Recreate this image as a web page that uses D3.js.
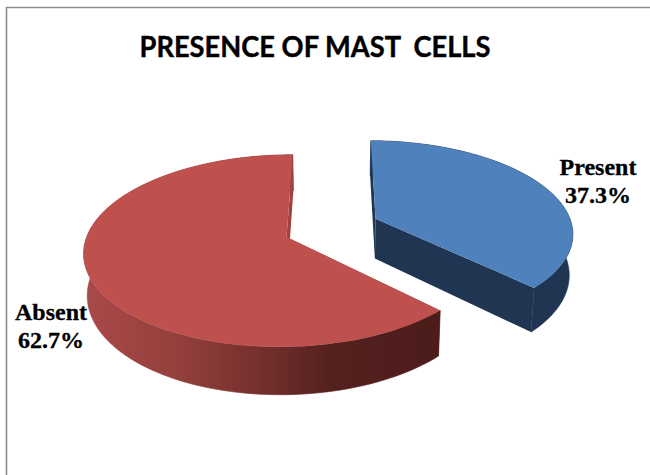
<!DOCTYPE html>
<html>
<head>
<meta charset="utf-8">
<script src="https://cdn.jsdelivr.net/npm/d3@7"></script>
<style>
html,body{margin:0;padding:0;background:#fff;}
svg{display:block;}
</style>
</head>
<body>
<script>
// Slice data
const categories = ["Present", "Absent"];
const percentages = [37.3, 62.7];
const chartTitle = "PRESENCE OF MAST  CELLS";

const width = 650, height = 475;
const svg = d3.select("body").append("svg").attr("width", width).attr("height", height);

// Chart frame: only the top and left edges fall inside the page
svg.append("path")
  .attr("d", d3.line()([[6.5, 475], [6.5, 7.5], [650, 7.5]]))
  .attr("fill", "none").attr("stroke", "#8c8c8c").attr("stroke-width", 1.6);

const defs = svg.append("defs");
const rimGradient = defs.append("linearGradient")
  .attr("id", "absentRim").attr("gradientUnits", "userSpaceOnUse")
  .attr("x1", 86).attr("x2", 440).attr("y1", 0).attr("y2", 0);
[[0, "#a9494a"], [0.25, "#94403c"], [0.5, "#742f2d"], [0.68, "#55211f"], [1, "#4b1c1a"]]
  .forEach(([o, c]) => rimGradient.append("stop").attr("offset", o).attr("stop-color", c));

// Perspective camera over the pie's ground plane
const vanishX = 329, centreY = 237, scaleX = 203, scaleZ = 95.5, foreshorten = 0.146;
const pieCentreX = -0.197, sideDrop = 41, sideShrink = 0.985;

function project(wx, wz) {
  const s = 1 + foreshorten * wz;
  return [vanishX + scaleX * wx / s, centreY - scaleZ * wz / s];
}
function projectBase(wx, wz) {
  const s = 1 + foreshorten * wz;
  const [x, y] = project(wx, wz);
  return [vanishX + (x - vanishX) * sideShrink, y + sideDrop / s];
}

const startDeg = 0.3;
const pieLayout = d3.pie().sort(null)
  .startAngle(startDeg * Math.PI / 180)
  .endAngle((360 + startDeg) * Math.PI / 180);
const arcs = pieLayout(percentages);
const line = d3.line();

// Pulled-out offset and drawn radius of each slice on the ground plane
const pullX = [0.433, -0.012], pullZ = [0.197, 0], sliceRadius = [0.985, 0.985];
const styles = [
  { top: "#4f81bd", side: "#1f3552", cut: "#1f3552" },
  { top: "#be504d", side: "url(#absentRim)", cut: "#a2423f" }
];

// Absent goes down first, Present on top of it
[1, 0].forEach(i => {
  const a = arcs[i], st = styles[i], r = sliceRadius[i];
  const cx = pieCentreX + pullX[i];
  const cz = pullZ[i];
  const angles = d3.range(0, 121).map(k => a.startAngle + (a.endAngle - a.startAngle) * k / 120);
  const rimW = angles.map(t => [cx + r * Math.sin(t), cz + r * Math.cos(t)]);
  const g = svg.append("g").attr("class", "slice-" + categories[i]);

  const wall = (p, q, fill) => g.append("path")
    .attr("d", line([project(...p), project(...q), projectBase(...q), projectBase(...p)]) + "Z")
    .attr("fill", fill);

  const rimTop = rimW.map(p => project(...p));
  const rimBase = rimW.map(p => projectBase(...p)).reverse();

  // The first cut face sits under the rim, the last one over it
  wall([cx, cz], rimW[0], st.cut);
  g.append("path").attr("d", line(rimTop.concat(rimBase)) + "Z")
    .attr("fill", st.side).attr("stroke", st.side).attr("stroke-width", 0.6);
  wall([cx, cz], rimW[rimW.length - 1], st.cut);

  g.append("path")
    .attr("d", line([project(cx, cz)].concat(rimTop)) + "Z")
    .attr("fill", st.top);
});

// Title
svg.append("text")
  .attr("x", 315).attr("y", 56.5)
  .attr("text-anchor", "middle")
  .attr("textLength", 351).attr("lengthAdjust", "spacingAndGlyphs")
  .style("white-space", "pre")
  .attr("font-family", "Lato, 'Open Sans', sans-serif")
  .attr("font-weight", 700).attr("font-size", 28).attr("fill", "#000")
  .attr("stroke", "#000").attr("stroke-width", 0.4)
  .text(chartTitle);

// Data labels
const labelSpots = [[598, 175], [51, 320]];
categories.forEach((c, i) => {
  const t = svg.append("text")
    .attr("text-anchor", "middle")
    .attr("font-family", "'Liberation Serif', serif")
    .attr("font-weight", 700).attr("font-size", 24).attr("fill", "#000")
    .attr("stroke", "#000").attr("stroke-width", 0.3);
  t.append("tspan").attr("x", labelSpots[i][0]).attr("y", labelSpots[i][1]).text(c);
  t.append("tspan").attr("x", labelSpots[i][0]).attr("y", labelSpots[i][1] + 28).text(percentages[i].toFixed(1) + "%");
});
</script>
</body>
</html>
